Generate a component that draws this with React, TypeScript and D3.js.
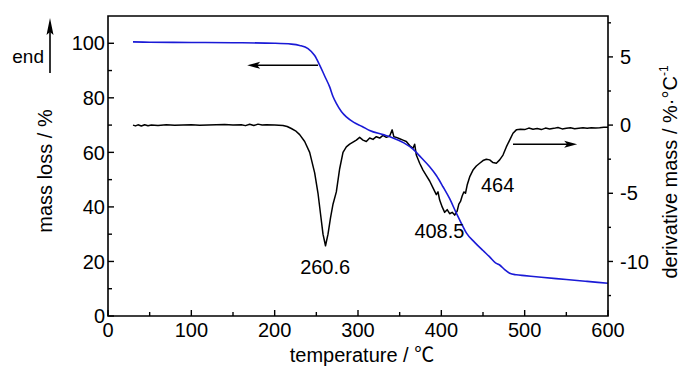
import React from "react";
import * as d3 from "d3";

// TG curve (mass loss, left axis)
const tgTemp = [30, 50, 100, 150, 200, 220, 230, 240, 248, 254, 260, 266, 270, 274, 280, 286, 295, 305, 314, 330, 342, 355, 366, 376, 386, 394, 402, 410, 418, 424, 430, 440, 450, 458, 465, 470, 476, 482, 490, 500, 520, 550, 575, 600];
const tgMass = [100.5, 100.4, 100.3, 100.2, 100.0, 99.7, 99.2, 98.0, 95.5, 92, 88, 84, 80.5, 78, 75, 73, 71, 69.5, 68, 66.5, 65.3, 63.5, 61.2, 58, 54.7, 51.5, 47.4, 43, 37.7, 34, 30.5, 27, 24, 21.7, 19.5, 18.7, 17, 15.7, 15.1, 14.8, 14.2, 13.4, 12.7, 12.0];

// DTG curve (derivative mass, right axis)
const dtgTemp = [30, 33, 36, 40, 44, 48, 52, 60, 70, 80, 90, 100, 110, 120, 130, 140, 150, 160, 165, 170, 175, 180, 185, 190, 200, 210, 215, 220, 225, 230, 236, 242, 248, 252, 255, 258, 261, 264, 267, 270, 274, 278, 282, 286, 290, 294, 298, 302, 306, 310, 314, 318, 322, 326, 330, 334, 338, 341, 343, 346, 350, 354, 358, 362, 366, 368, 370, 374, 378, 382, 386, 390, 394, 396, 398, 401, 404, 407, 410, 413, 416, 419, 421, 423, 425, 427, 429, 431, 434, 438, 442, 446, 450, 454, 458, 462, 466, 470, 474, 478, 482, 486, 490, 495, 500, 505, 510, 515, 520, 525, 530, 535, 540, 545, 550, 555, 560, 565, 570, 575, 580, 585, 590, 595, 600];
const dtgValue = [0, -0.06, 0.02, -0.07, 0.03, -0.05, 0, -0.03, 0.02, -0.02, 0, 0.02, -0.02, 0, 0.02, 0.04, 0, 0.03, -0.04, 0.06, -0.03, 0.07, 0, 0.03, 0, -0.03, -0.1, -0.25, -0.42, -0.7, -1.2, -2, -3.5, -5, -6.5, -8, -8.85, -8, -6.8, -5.8, -4.9, -3.2, -2, -1.6, -1.4, -1.25, -1.1, -0.9, -1.1, -1.2, -0.95, -1.05, -0.85, -0.95, -0.75, -0.9, -0.8, -0.35, -0.85, -0.9, -1.0, -1.1, -1.2, -1.5, -1.7, -1.4, -2.2, -2.8, -3.3, -3.7, -4.1, -4.6, -5.1, -4.9, -5.5, -6.0, -6.4, -6.2, -6.5, -6.4, -6.6, -6.3, -5.8, -5.6, -5.2, -4.9, -5.0, -4.4, -3.8, -3.3, -3.0, -2.8, -2.6, -2.5, -2.55, -2.75, -2.8, -2.55, -2.2, -1.6, -1.1, -0.6, -0.35, -0.3, -0.33, -0.22, -0.3, -0.25, -0.33, -0.22, -0.28, -0.24, -0.18, -0.28, -0.24, -0.2, -0.27, -0.23, -0.2, -0.24, -0.2, -0.22, -0.2, -0.16, -0.15];

const xTicks = [0, 100, 200, 300, 400, 500, 600];
const xMinor = [50, 150, 250, 350, 450, 550];
const leftTicks = [0, 20, 40, 60, 80, 100];
const leftMinor = [10, 30, 50, 70, 90];
const rightTicks = [-10, -5, 0, 5];
const rightMinor = [-12.5, -7.5, -2.5, 2.5, 7.5];

const peakLabels = ["260.6", "408.5", "464"];
const peakPos = [
  [260.6, -10.9],
  [408.5, -8.3],
  [464, -4.9],
];

const FONT = "'Liberation Sans', Arial, sans-serif";
const CJK = "'Noto Sans CJK SC', 'Liberation Sans', sans-serif";

export default function App() {
  const L = 108, R = 608, T = 16, B = 316;
  const x = d3.scaleLinear().domain([0, 600]).range([L, R]);
  const yL = d3.scaleLinear().domain([0, 110]).range([B, T]);
  const yR = d3.scaleLinear().domain([-14, 8]).range([B, T]);

  const tgLine = d3
    .line<number>()
    .x((d, i) => x(tgTemp[i]))
    .y((d) => yL(d))
    .curve(d3.curveMonotoneX)(tgMass) as string;
  const dtgLine = d3
    .line<number>()
    .x((d, i) => x(dtgTemp[i]))
    .y((d) => yR(d))(dtgValue) as string;

  const arrowHead = (tx: number, ty: number, dir: "left" | "right" | "up", len = 13, hw = 3.5) => {
    if (dir === "left") return `M${tx},${ty} L${tx + len},${ty - hw} L${tx + len - 3},${ty} L${tx + len},${ty + hw} Z`;
    if (dir === "right") return `M${tx},${ty} L${tx - len},${ty - hw} L${tx - len + 3},${ty} L${tx - len},${ty + hw} Z`;
    return `M${tx},${ty} L${tx - hw},${ty + len} L${tx},${ty + len - 3} L${tx + hw},${ty + len} Z`;
  };

  const la = { x1: x(252), x2: x(167), y: yL(91.9) };
  const ra = { x1: x(486), x2: x(563), y: yR(-1.4) };

  return (
    <svg
      width={700}
      height={375}
      style={{ position: "absolute", left: 0, top: 0, background: "#fff" }}
      fontFamily={FONT}
    >
      <rect x={0} y={0} width={700} height={375} fill="#fff" />
      {/* curves */}
      <path d={dtgLine} fill="none" stroke="#000" strokeWidth={1.5} strokeLinejoin="round" />
      <path d={tgLine} fill="none" stroke="#1a1ad6" strokeWidth={1.6} />

      {/* frame */}
      <path d={`M${L},${T} L${R},${T} L${R},${B} L${L},${B} Z`} fill="none" stroke="#000" strokeWidth={1.6} />

      {/* bottom axis */}
      {xTicks.map((t) => (
        <g key={"xt" + t}>
          <line x1={x(t)} x2={x(t)} y1={B} y2={B - 6} stroke="#000" strokeWidth={1.4} />
          <text x={x(t)} y={337} fontSize={20} textAnchor="middle">{t}</text>
        </g>
      ))}
      {xMinor.map((t) => (
        <line key={"xm" + t} x1={x(t)} x2={x(t)} y1={B} y2={B - 4} stroke="#000" strokeWidth={1.4} />
      ))}

      {/* left axis */}
      {leftTicks.map((t) => (
        <g key={"lt" + t}>
          <line x1={L} x2={L + 6} y1={yL(t)} y2={yL(t)} stroke="#000" strokeWidth={1.4} />
          <text x={105} y={yL(t)} dy="0.36em" fontSize={20} textAnchor="end">{t}</text>
        </g>
      ))}
      {leftMinor.map((t) => (
        <line key={"lm" + t} x1={L} x2={L + 4} y1={yL(t)} y2={yL(t)} stroke="#000" strokeWidth={1.4} />
      ))}

      {/* right axis */}
      {rightTicks.map((t) => (
        <g key={"rt" + t}>
          <line x1={R} x2={R + 5} y1={yR(t)} y2={yR(t)} stroke="#000" strokeWidth={1.4} />
          <text x={620} y={yR(t)} dy="0.36em" fontSize={20} textAnchor="start">{t}</text>
        </g>
      ))}
      {rightMinor.map((t) => (
        <line key={"rm" + t} x1={R} x2={R + 3} y1={yR(t)} y2={yR(t)} stroke="#000" strokeWidth={1.4} />
      ))}

      {/* axis titles */}
      <text x={362} y={362} fontSize={20} textAnchor="middle">
        temperature / <tspan fontFamily={CJK}>℃</tspan>
      </text>
      <text transform="translate(52,171) rotate(-90)" fontSize={20} textAnchor="middle">mass loss / %</text>
      <text transform="translate(677,172) rotate(-90)" fontSize={20} textAnchor="middle">
        derivative mass / %·°C<tspan fontSize={12} dy={-9}>-1</tspan>
      </text>

      {/* end arrow */}
      <text x={44} y={63} fontSize={19} textAnchor="end">end</text>
      <line x1={50} x2={50} y1={73} y2={30} stroke="#000" strokeWidth={1.6} />
      <path d={arrowHead(50, 18, "up", 17, 3.5)} fill="#000" />

      {/* direction arrows */}
      <line x1={la.x1} x2={la.x2 + 8} y1={la.y} y2={la.y} stroke="#000" strokeWidth={1.5} />
      <path d={arrowHead(la.x2, la.y, "left")} fill="#000" />
      <line x1={ra.x1} x2={ra.x2 - 8} y1={ra.y} y2={ra.y} stroke="#000" strokeWidth={1.5} />
      <path d={arrowHead(ra.x2, ra.y, "right")} fill="#000" />

      {/* peak labels */}
      {peakLabels.map((s, i) => (
        <text key={s} x={x(peakPos[i][0]) + (i === 0 ? 0 : i === 1 ? -9 : 3)} y={yR(peakPos[i][1])} fontSize={20} textAnchor="middle">
          {s}
        </text>
      ))}
    </svg>
  );
}
